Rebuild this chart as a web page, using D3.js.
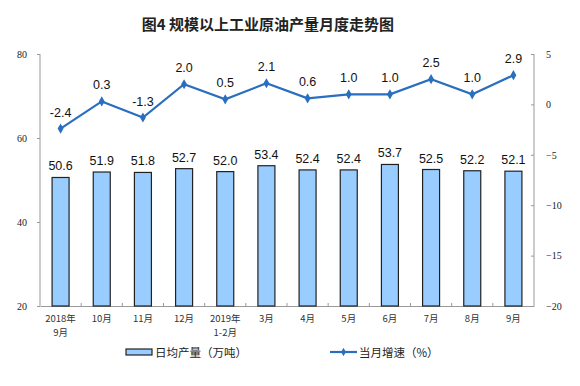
<!DOCTYPE html>
<html lang="zh">
<head>
<meta charset="UTF-8">
<title>chart</title>
<script src="https://d3js.org/d3.v7.min.js"></script>
<style>
  body { margin: 0; background: #fff; }
</style>
</head>
<body>
<svg width="580" height="386"></svg>
<script>
const categories = ["2018年\n9月", "10月", "11月", "12月", "2019年\n1-2月", "3月", "4月", "5月", "6月", "7月", "8月", "9月"];
const output = [50.6, 51.9, 51.8, 52.7, 52.0, 53.4, 52.4, 52.4, 53.7, 52.5, 52.2, 52.1];
const growth = [-2.4, 0.3, -1.3, 2.0, 0.5, 2.1, 0.6, 1.0, 1.0, 2.5, 1.0, 2.9];
const leftTicks = [20, 40, 60, 80];
const rightTicks = [-20, -15, -10, -5, 0, 5];

const margin = {top: 54, right: 46, bottom: 80, left: 40};
const width = 580, height = 386;
const svg = d3.select("svg");
const serif = "'Liberation Serif', 'DejaVu Serif', serif";
const sans = "'Liberation Sans', Arial, sans-serif";
const cjk = "'Noto Sans CJK SC', sans-serif";
const axisColor = "#999";
const lineColor = "#2a6ebf";

const x = d3.scaleBand()
    .domain(categories)
    .range([margin.left, width - margin.right]);
const yL = d3.scaleLinear().domain([20, 80]).range([height - margin.bottom, margin.top]);
const yR = d3.scaleLinear().domain([-20, 5]).range([height - margin.bottom, margin.top]);

// 标题
svg.append("text")
    .attr("x", 268).attr("y", 30)
    .attr("text-anchor", "middle")
    .style("font-family", cjk).style("font-size", "15px").style("font-weight", "bold")
    .attr("fill", "#222")
    .text("图4 规模以上工业原油产量月度走势图");

// 左轴
const gL = svg.append("g")
    .attr("transform", "translate(" + margin.left + ",0)")
    .call(d3.axisLeft(yL).tickValues(leftTicks).tickSize(3).tickPadding(10));
gL.selectAll("text").style("font-family", serif).style("font-size", "10px").attr("fill", "#222");

// 右轴
const gR = svg.append("g")
    .attr("transform", "translate(" + (width - margin.right) + ",0)")
    .call(d3.axisRight(yR).tickValues(rightTicks).tickSize(-3).tickPadding(12));
gR.selectAll("text").style("font-family", serif).style("font-size", "10px").attr("fill", "#222")
    .attr("text-anchor", "start");

// 底轴
const gB = svg.append("g")
    .attr("transform", "translate(0," + (height - margin.bottom) + ")")
    .call(d3.axisBottom(x).tickSize(0).tickFormat(""));
gB.selectAll(".sep")
    .data(categories.slice(1))
    .enter().append("line")
    .attr("class", "sep")
    .attr("x1", d => x(d)).attr("x2", d => x(d))
    .attr("y1", 0).attr("y2", -3)
    .attr("stroke", axisColor);

[gL, gR, gB].forEach(g => {
    g.selectAll(".domain").attr("stroke", axisColor);
    g.selectAll(".tick line").attr("stroke", axisColor);
});
gL.select(".domain").attr("d", "M0," + yL(80) + "V" + yL(20));
gR.select(".domain").attr("d", "M0," + yR(5) + "V" + yR(-20));

// 类别标签（两行的拆成两个文本）
categories.forEach(c => {
    c.split("\n").forEach((l, i) => {
        svg.append("text")
            .attr("x", x(c) + x.bandwidth() / 2)
            .attr("y", height - margin.bottom + 16 + i * 14)
            .attr("text-anchor", "middle")
            .style("font-family", "'Noto Sans CJK SC', serif").style("font-size", "9.5px")
            .attr("fill", "#333")
            .text(l);
    });
});

// 柱
const barW = 17;
svg.selectAll("rect.bar")
    .data(output)
    .enter().append("rect")
    .attr("class", "bar")
    .attr("x", (d, i) => x(categories[i]) + (x.bandwidth() - barW) / 2)
    .attr("y", d => yL(d))
    .attr("width", barW)
    .attr("height", d => yL(20) - yL(d))
    .attr("fill", "#99ccff")
    .attr("stroke", "#222")
    .attr("stroke-width", 1.2);

svg.selectAll("text.bv")
    .data(output)
    .enter().append("text")
    .attr("class", "bv")
    .attr("x", (d, i) => x(categories[i]) + x.bandwidth() / 2)
    .attr("y", d => yL(d) - 7)
    .attr("text-anchor", "middle")
    .style("font-family", sans).style("font-size", "12.5px")
    .attr("fill", "#111")
    .text(d => d.toFixed(1));

// 折线
const line = d3.line()
    .x((d, i) => x(categories[i]) + x.bandwidth() / 2)
    .y(d => yR(d));
svg.append("path")
    .datum(growth)
    .attr("d", line)
    .attr("fill", "none")
    .attr("stroke", lineColor)
    .attr("stroke-width", 2.2);

svg.selectAll("path.pt")
    .data(growth)
    .enter().append("path")
    .attr("class", "pt")
    .attr("d", d3.symbol().type(d3.symbolDiamond).size(30))
    .attr("transform", (d, i) => "translate(" + (x(categories[i]) + x.bandwidth() / 2) + "," + yR(d) + ")")
    .attr("fill", lineColor);

svg.selectAll("text.lv")
    .data(growth)
    .enter().append("text")
    .attr("class", "lv")
    .attr("x", (d, i) => x(categories[i]) + x.bandwidth() / 2)
    .attr("y", d => yR(d) - 12)
    .attr("text-anchor", "middle")
    .style("font-family", sans).style("font-size", "12.5px")
    .attr("fill", "#111")
    .text(d => d.toFixed(1));

// 图例
const lg = svg.append("g").attr("transform", "translate(0,352)");
lg.append("rect")
    .attr("x", 126).attr("y", -3).attr("width", 26).attr("height", 6)
    .attr("fill", "#99ccff").attr("stroke", "#222").attr("stroke-width", 1.2);
lg.append("text")
    .attr("x", 155).attr("y", 4.5)
    .style("font-family", cjk).style("font-size", "11.5px").attr("fill", "#222")
    .text("日均产量（万吨）");
lg.append("line")
    .attr("x1", 330).attr("x2", 357).attr("y1", 0).attr("y2", 0)
    .attr("stroke", lineColor).attr("stroke-width", 2.2);
lg.append("path")
    .attr("d", d3.symbol().type(d3.symbolDiamond).size(20))
    .attr("transform", "translate(343.5,0)")
    .attr("fill", lineColor);
lg.append("text")
    .attr("x", 359).attr("y", 4.5)
    .style("font-family", cjk).style("font-size", "11.5px").attr("fill", "#222")
    .text("当月增速（%）");
</script>
</body>
</html>
